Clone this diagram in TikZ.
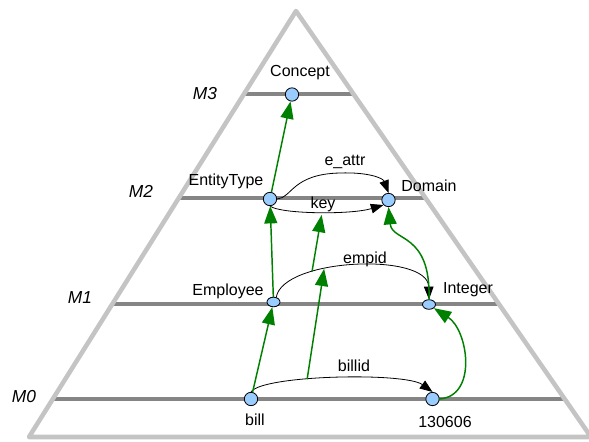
\documentclass[tikz,border=0pt]{standalone}
\usepackage{fontspec}
\setmainfont{Liberation Sans}
\usetikzlibrary{arrows.meta,shapes.geometric}
\definecolor{pyramidgray}{HTML}{C4C4C4}
\definecolor{levelgray}{HTML}{858585}
\definecolor{vertexblue}{HTML}{99CCFF}
\definecolor{instgreen}{HTML}{008000}

\begin{document}
\begin{tikzpicture}[x=0.75pt,y=0.75pt]
	\tikzstyle{every node}+=[inner sep=0pt, font=\fontsize{12}{14}\selectfont]
	\tikzstyle{vtx}=[circle, draw, line width=0.6pt, fill=vertexblue, minimum size=10pt]
	\tikzstyle{flatvtx}=[ellipse, draw, line width=0.6pt, fill=vertexblue, minimum width=9.75pt, minimum height=7.2pt]
	\tikzstyle{lvl}=[font=\fontsize{13}{15}\selectfont\itshape]
	\tikzstyle{inst}=[draw=instgreen, line width=1.1pt, -{Triangle[length=13pt,width=9.75pt]}]
	\tikzstyle{rel}=[black, line width=0.6pt, -{Triangle[length=9.5pt,width=7.2pt]}]
	\useasboundingbox (0,0) rectangle (589,-442);
	% level lines and pyramid
	\draw [levelgray, line width=2.3pt] (244,-94) -- (353.5,-94);
	\draw [levelgray, line width=2.3pt] (178.8,-198) -- (425.5,-198);
	\draw [levelgray, line width=2.3pt] (112.3,-304) -- (499,-304);
	\draw [levelgray, line width=2.3pt] (52.8,-399) -- (564.7,-399);
	\draw [pyramidgray, line width=3.4pt, line join=round] (296,-11) -- (29,-437) -- (591,-437) -- cycle;
	\node [lvl] (m3) at (205,-94) {M3};
	\node [lvl] (m2) at (141,-191) {M2};
	\node [lvl] (m1) at (80,-298) {M1};
	\node [lvl] (m0) at (24,-397) {M0};
	% elements
	\node [vtx] (concept) at (292,-94.5) {};
	\node [vtx] (etype) at (270,-199) {};
	\node [vtx] (domain) at (388.5,-200) {};
	\node [flatvtx] (employee) at (273.5,-302) {};
	\node [flatvtx] (integer) at (429,-304.5) {};
	\node [vtx] (bill) at (251,-399) {};
	\node [vtx] (num) at (432.5,-399) {};
	\node (lconcept) at (300,-73) {Concept};
	\node (letype) at (226,-181) {EntityType};
	\node (ldomain) at (429,-186) {Domain};
	\node (lemployee) at (228,-291) {Employee};
	\node (linteger) at (468,-290) {Integer};
	\node (lbill) at (255,-420) {bill};
	\node (lnum) at (445,-422) {130606};
	% relations
	\draw [rel] (etype.east) .. controls (292,-198) and (292,-174) .. (340,-173) .. controls (368,-172) and (383,-178) .. (domain.north);
	\draw [rel] (etype.south) .. controls (280,-214) and (350,-215) .. (domain.225) coordinate[pos=0.53] (keymid);
	\draw [rel] (employee.60) .. controls (283,-258) and (428,-252) .. (integer.north) coordinate[pos=0.3] (empida) coordinate[pos=0.36] (empidb);
	\draw [rel] (bill.north) .. controls (262,-375) and (405,-372) .. (num.north) coordinate[pos=0.38] (billmid);
	\node (lattr) at (345,-162) {e\_attr};
	\node (lkey) at (323,-204) {key};
	\node (lempid) at (365,-259) {empid};
	\node (lbillid) at (354,-366) {billid};
	% instance-of links
	\draw [inst] (etype) -- (concept);
	\draw [inst] (employee) -- (etype);
	\draw [inst] (bill) -- (employee);
	\draw [inst] (integer.north) .. controls (431,-232) and (392,-242) .. (domain.south);
	\draw [inst] (num.east) .. controls (478,-396) and (468,-330) .. (integer.south east);
	\draw [inst] (billmid) -- (empidb);
	\draw [inst, shorten >=2pt] (empida) -- (keymid);
\end{tikzpicture}
\end{document}
